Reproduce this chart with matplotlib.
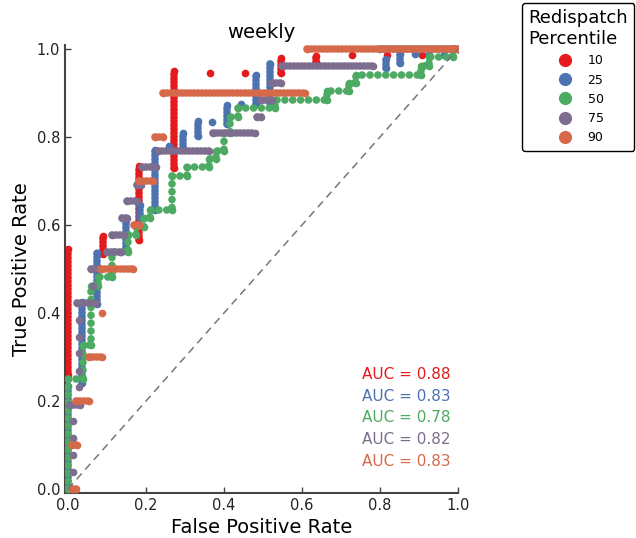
import numpy as np
import matplotlib.pyplot as plt
from matplotlib.lines import Line2D

labels = ['10', '25', '50', '75', '90']
colors = ['#e41a1c', '#4c72b0', '#4daa62', '#7d6d8e', '#d6694a']
auc = [0.88, 0.83, 0.78, 0.82, 0.83]

# ROC points.  runs = (x0, y0, x1, y1) stretches of
# tightly packed points, pts = lone points
red_runs = [(0.0, 0.26, 0.0, 0.545), (0.091, 0.535, 0.091, 0.575),
            (0.182, 0.565, 0.182, 0.735), (0.273, 0.73, 0.273, 0.95),
            (0.545, 0.945, 0.545, 0.98), (0.636, 0.97, 0.636, 0.985)]
red_pts_x = [0.364, 0.455, 0.727, 0.818, 0.909, 1.0]
red_pts_y = [0.945, 0.945, 0.987, 0.987, 0.987, 1.0]

blue_runs = [(0.0, 0.0, 0.0, 0.235), (0.037, 0.24, 0.037, 0.425),
             (0.074, 0.42, 0.074, 0.537), (0.148, 0.54, 0.148, 0.612),
             (0.185, 0.615, 0.185, 0.645), (0.222, 0.635, 0.222, 0.77),
             (0.296, 0.776, 0.296, 0.81), (0.333, 0.803, 0.333, 0.837),
             (0.407, 0.83, 0.407, 0.872), (0.481, 0.875, 0.481, 0.94),
             (0.519, 0.877, 0.519, 0.965), (0.815, 0.957, 0.815, 0.977),
             (0.852, 0.968, 0.852, 0.988)]
blue_pts_x = [0.259, 0.370, 0.444, 0.889, 0.926, 0.963, 1.0]
blue_pts_y = [0.78, 0.833, 0.875, 0.988, 0.986, 0.986, 1.0]

# green is a plain staircase
green_x = [0.0, 0.0, 0.039, 0.039, 0.058, 0.058, 0.078, 0.078, 0.113, 0.113,
           0.134, 0.153, 0.153, 0.175, 0.175, 0.194, 0.194, 0.211, 0.211,
           0.267, 0.267, 0.305, 0.305, 0.361, 0.361, 0.38, 0.38, 0.399, 0.399,
           0.416, 0.416, 0.435, 0.435, 0.53, 0.53, 0.665, 0.665, 0.72, 0.72,
           0.738, 0.738, 0.905, 0.905, 0.926, 0.926, 0.986, 0.986, 1.0]
green_y = [0.0, 0.25, 0.25, 0.327, 0.327, 0.462, 0.462, 0.481, 0.481, 0.538,
           0.538, 0.538, 0.577, 0.577, 0.596, 0.596, 0.615, 0.615, 0.635,
           0.635, 0.712, 0.712, 0.731, 0.731, 0.75, 0.75, 0.769, 0.769, 0.808,
           0.808, 0.846, 0.846, 0.865, 0.865, 0.885, 0.885, 0.904, 0.904, 0.923,
           0.923, 0.942, 0.942, 0.962, 0.962, 0.981, 0.981, 1.0, 1.0]

purple_runs = [(0.005, 0.192, 0.03, 0.192), (0.022, 0.423, 0.072, 0.423),
               (0.06, 0.5, 0.085, 0.5), (0.1, 0.538, 0.135, 0.538),
               (0.113, 0.577, 0.143, 0.577), (0.139, 0.615, 0.152, 0.615),
               (0.152, 0.654, 0.177, 0.654), (0.177, 0.692, 0.188, 0.692),
               (0.19, 0.731, 0.225, 0.731), (0.23, 0.769, 0.362, 0.769),
               (0.372, 0.808, 0.48, 0.808), (0.484, 0.846, 0.494, 0.846),
               (0.496, 0.885, 0.522, 0.885), (0.524, 0.923, 0.545, 0.923),
               (0.55, 0.962, 0.782, 0.962), (0.8, 1.0, 1.0, 1.0)]
purple_pts_x = [0.014, 0.014, 0.014, 0.014, 0.014,
                0.027, 0.027, 0.027, 0.027, 0.027, 0.065]
purple_pts_y = [0.0, 0.038, 0.077, 0.115, 0.154,
                0.231, 0.269, 0.308, 0.346, 0.385, 0.462]

orange_runs = [(0.01, 0.0, 0.02, 0.0), (0.01, 0.1, 0.023, 0.1),
               (0.02, 0.2, 0.055, 0.2), (0.055, 0.3, 0.087, 0.3),
               (0.085, 0.5, 0.167, 0.5), (0.17, 0.6, 0.183, 0.6),
               (0.182, 0.7, 0.218, 0.7), (0.222, 0.8, 0.243, 0.8),
               (0.244, 0.9, 0.607, 0.9), (0.614, 1.0, 1.0, 1.0)]
orange_pts_x = [0.087]
orange_pts_y = [0.4]

DOT = 5.5  # dot diameter in points


def draw_runs(ax, runs, px, py, color, z):
    for x0, y0, x1, y1 in runs:
        ax.plot([x0, x1], [y0, y1], color=color, lw=DOT,
                linestyle=(0, (0.01, 0.5)), dash_capstyle='round', zorder=z)
        ax.scatter([x0, x1], [y0, y1], s=DOT ** 2, color=color,
                   linewidths=0, zorder=z)
    ax.scatter(px, py, s=DOT ** 2, color=color, linewidths=0, zorder=z)


fig = plt.figure(figsize=(6.36, 5.38), dpi=100)
ax = fig.add_axes([0.1022, 0.0842, 0.6179, 0.8329])

draw_runs(ax, red_runs, red_pts_x, red_pts_y, colors[0], 2)
draw_runs(ax, blue_runs, blue_pts_x, blue_pts_y, colors[1], 3)
ax.plot(green_x, green_y, color=colors[2], lw=DOT,
        linestyle=(0, (0.01, 1.02)), dash_capstyle='round', zorder=4)
ax.scatter(green_x, green_y, s=DOT ** 2, color=colors[2], linewidths=0, zorder=4)
draw_runs(ax, purple_runs, purple_pts_x, purple_pts_y, colors[3], 5)
draw_runs(ax, orange_runs, orange_pts_x, orange_pts_y, colors[4], 6)

ax.plot([0, 1], [0, 1], color='#777777', lw=1.1, linestyle=(0, (5, 3.5)), zorder=7)

ys = [0.26, 0.21, 0.162, 0.112, 0.062]
for i in range(5):
    ax.text(0.753, ys[i], 'AUC = %.2f' % auc[i], color=colors[i],
            fontsize=11, ha='left', va='center')

ax.set_xlim(-0.0077, 1.0)
ax.set_ylim(-0.0084, 1.01)
ticks = [0.0, 0.2, 0.4, 0.6, 0.8, 1.0]
ax.set_xticks(ticks)
ax.set_yticks(ticks)
ax.set_xticklabels(['%.1f' % t for t in ticks])
ax.set_yticklabels(['%.1f' % t for t in ticks])
ax.tick_params(direction='in', length=4, width=1, color='#444444',
               labelcolor='#222222', labelsize=10.5)
for s in ['top', 'right']:
    ax.spines[s].set_visible(False)
for s in ['left', 'bottom']:
    ax.spines[s].set_linewidth(1.5)
    ax.spines[s].set_color('#444444')

ax.set_xlabel('False Positive Rate', fontsize=14)
ax.set_ylabel('True Positive Rate', fontsize=14)
ax.set_title('weekly', fontsize=14, pad=5)

handles = [Line2D([], [], marker='o', ls='', color=c, markersize=9.5,
                  markeredgewidth=0) for c in colors]
leg = fig.legend(handles, labels, title='Redispatch\nPercentile', fontsize=9,
                 title_fontsize=13, loc='upper left', borderpad=0.5,
                 bbox_to_anchor=(522 / 636, 1 - 3 / 538),
                 bbox_transform=fig.transFigure, borderaxespad=0, framealpha=1)
leg.get_frame().set_edgecolor('black')
leg.get_frame().set_linewidth(1.0)

fig.savefig('out.png', dpi=100)
